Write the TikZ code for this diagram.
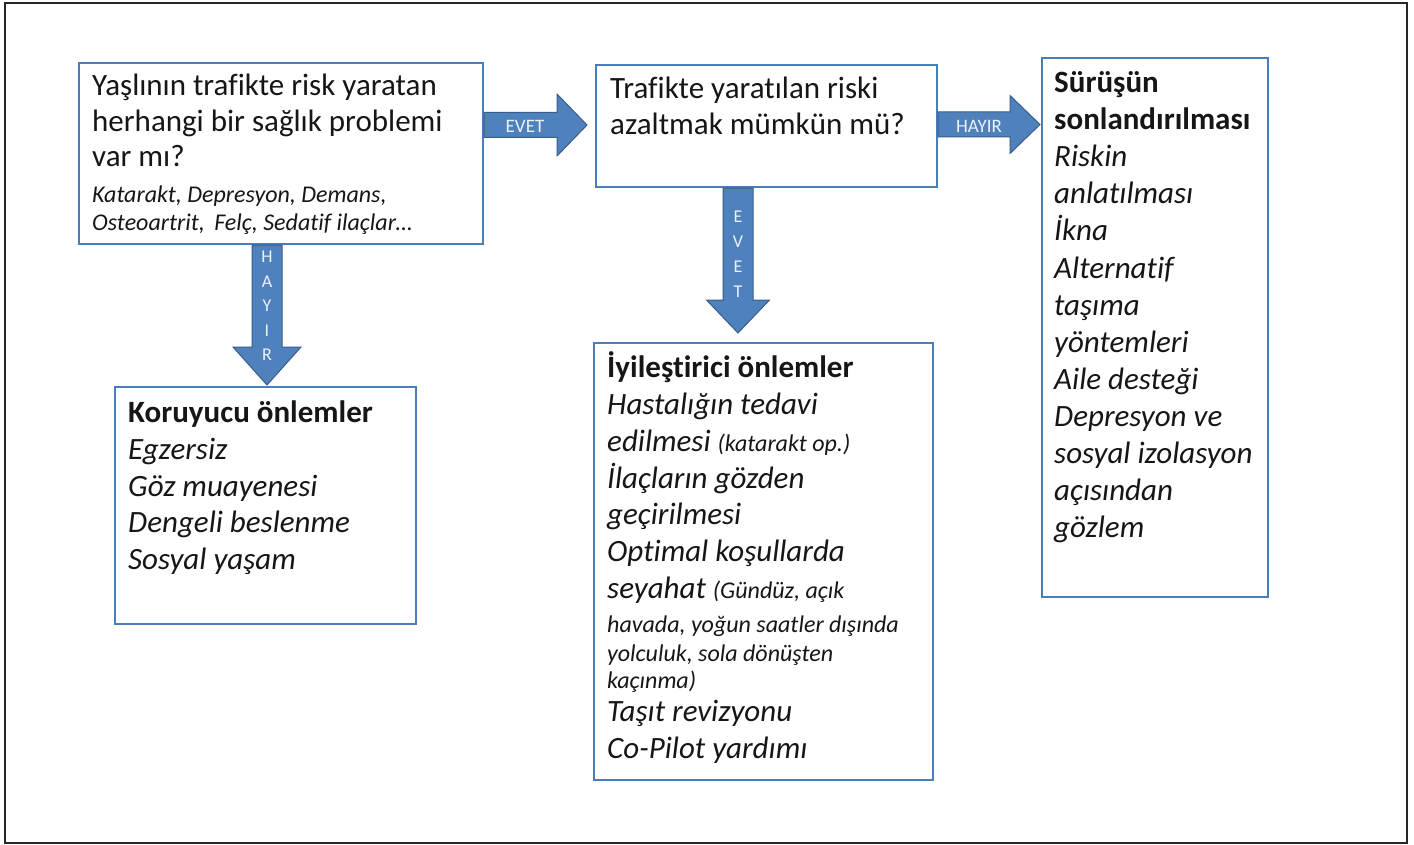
\documentclass[tikz,border=0pt]{standalone}
\usepackage{fontspec}
\setmainfont{Carlito}[Ligatures=CommonOff]
\usetikzlibrary{calc}
\definecolor{boxblue}{RGB}{74,126,187}
\definecolor{arrfill}{RGB}{79,129,189}
\definecolor{arrline}{RGB}{56,93,138}
\definecolor{txt}{RGB}{22,22,22}
\definecolor{arrtxt}{RGB}{236,241,248}
\newcommand\bigf{\fontsize{31}{37}\selectfont}
\newcommand\smallit{\fontsize{24}{28}\selectfont\itshape}
\newcommand\smallf{\fontsize{24}{28}\selectfont}
\newcommand\arrf{\fontsize{19}{24.5}\selectfont}
\newcommand\harrow[5]{%
 \draw[blockarrow] ($(#1)+(0,-#3)$) -- ($(#2)+(-#5,-#3)$) -- ($(#2)+(-#5,-#4)$) -- (#2) -- ($(#2)+(-#5,#4)$) -- ($(#2)+(-#5,#3)$) -- ($(#1)+(0,#3)$) -- cycle;}
\newcommand\varrow[5]{%
 \draw[blockarrow] ($(#1)+(-#3,0)$) -- ($(#2)+(-#3,-#5)$) -- ($(#2)+(-#4,-#5)$) -- (#2) -- ($(#2)+(#4,-#5)$) -- ($(#2)+(#3,-#5)$) -- ($(#1)+(#3,0)$) -- cycle;}
\begin{document}
\begin{tikzpicture}[x=1pt,y=-1pt,
 box/.style={draw=boxblue, line width=2.4pt, fill=white, inner sep=0pt, outer sep=0pt},
 frame/.style={draw=black!85, line width=1.2pt, inner sep=0pt, outer sep=0pt},
 tl/.style={anchor=base west, inner sep=0pt, text=txt, font=\bigf},
 tb/.style={anchor=base west, inner sep=0pt, text=txt, font=\bigf\bfseries},
 ti/.style={anchor=base west, inner sep=0pt, text=txt, font=\bigf\itshape},
 ts/.style={anchor=base west, inner sep=0pt, text=txt, font=\smallit},
 blockarrow/.style={fill=arrfill, draw=arrline, line width=1pt, line join=miter},
 arrlabel/.style={text=arrtxt, font=\arrf, inner sep=0pt}]
\useasboundingbox (0,0) rectangle (1414,845);
\fill[white] (0,0) rectangle (1414,845);
\node[frame, minimum width=1402pt, minimum height=840pt] (frame) at (706,423) {};
% boxes
\node[box, minimum width=404pt, minimum height=181pt] (b1) at (281,153.5) {};
\node[box, minimum width=341pt, minimum height=122pt] (b2) at (766.5,126) {};
\node[box, minimum width=226pt, minimum height=539pt] (b3) at (1155,327.5) {};
\node[box, minimum width=301pt, minimum height=237pt] (b4) at (265.5,505.5) {};
\node[box, minimum width=339pt, minimum height=437pt] (b5) at (763.5,561.5) {};
% arrow end points
\coordinate (e1s) at ($(b1.east)+(1.2,-28.5)$);
\coordinate (e1t) at ($(b2.west)+(-9,-1)$);
\coordinate (e2s) at ($(b2.east)+(1.2,-1.5)$);
\coordinate (e2t) at ($(b3.west |- e2s)+(-2,0)$);
\coordinate (e3s) at ($(b1.south)+(-14,1.2)$);
\coordinate (e3t) at ($(e3s |- b4.north)+(0,-2)$);
\coordinate (e4s) at ($(b2.south)+(-28.5,1.2)$);
\coordinate (e4t) at ($(e4s |- b5.north)+(0,-10)$);
\harrow{e1s}{e1t}{12.5}{31}{30}
\harrow{e2s}{e2t}{12.5}{29}{30}
\varrow{e3s}{e3t}{15}{34}{38}
\varrow{e4s}{e4t}{15}{31.5}{33}
\node[arrlabel] (l1) at (525,126) {EVET};
\node[arrlabel] (l2) at (979,126) {HAYIR};
\node[arrlabel, align=center, font=\fontsize{18}{24.5}\selectfont] (l3) at (267,306) {H\\A\\Y\\I\\R};
\node[arrlabel, align=center, font=\fontsize{18}{25}\selectfont] (l4) at (738,254.5) {E\\V\\E\\T};
% box 1 text
\node[tl] (t11) at (92,96) {Yaşlının trafikte risk yaratan};
\node[tl] (t12) at (92,132) {herhangi bir sağlık problemi};
\node[tl] (t13) at (92,167) {var mı?};
\node[ts] (t14) at (92,203) {Katarakt, Depresyon, Demans,};
\node[ts] (t15) at (92,231) {Osteoartrit,\, Felç, Sedatif ilaçlar…};
% box 2 text
\node[tl] (t21) at (610,99) {Trafikte yaratılan riski};
\node[tl] (t22) at (610,135) {azaltmak mümkün mü?};
% box 3 text
\node[tb] (t31) at (1054,93) {Sürüşün};
\node[tb] (t32) at (1054,130) {sonlandırılması};
\foreach \yy/\tt [count=\i] in {167/Riskin, 204/anlatılması, 241/İkna, 278/Alternatif, 315/taşıma, 352/yöntemleri, 389/Aile desteği, 426/Depresyon ve, 463/sosyal izolasyon, 500/açısından, 537/gözlem}
  \node[ti] (t3l\i) at (1054,\yy) {\tt};
% box 4 text
\node[tb] (t41) at (128,422) {Koruyucu önlemler};
\foreach \yy/\tt [count=\i] in {459/Egzersiz, 496/Göz muayenesi, 532/Dengeli beslenme, 569/Sosyal yaşam}
  \node[ti] (t4l\i) at (128,\yy) {\tt};
% box 5 text
\node[tb] (t51) at (607,377) {İyileştirici önlemler};
\node[ti] (t52) at (607,414) {Hastalığın tedavi};
\node[ti] (t53) at (607,451) {edilmesi {\smallf (katarakt op.)}};
\node[ti] (t54) at (607,488) {İlaçların gözden};
\node[ti] (t55) at (607,524) {geçirilmesi};
\node[ti] (t56) at (607,561) {Optimal koşullarda};
\node[ti] (t57) at (607,598) {seyahat {\smallf (Gündüz, açık}};
\node[ts] (t58) at (607,632) {havada, yoğun saatler dışında};
\node[ts] (t59) at (607,661) {yolculuk, sola dönüşten};
\node[ts] (t510) at (607,688) {kaçınma)};
\node[ti] (t511) at (607,721) {Taşıt revizyonu};
\node[ti] (t512) at (607,758) {Co-Pilot yardımı};
\end{tikzpicture}
\end{document}
